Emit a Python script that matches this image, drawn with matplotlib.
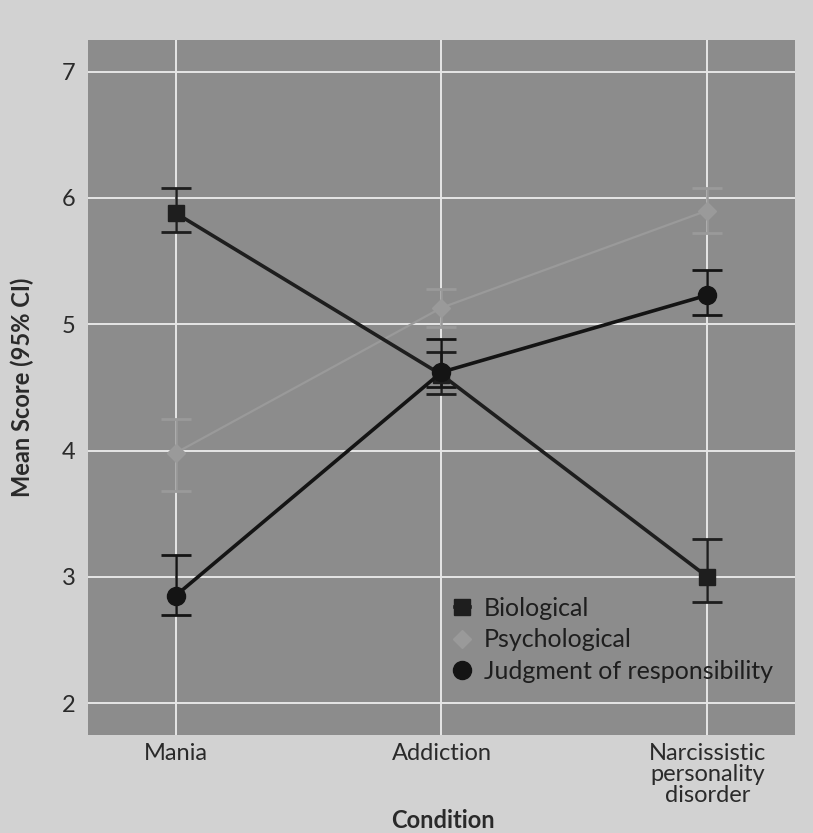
import numpy as np
import matplotlib
matplotlib.use("Agg")
import matplotlib.pyplot as plt

condicoes = ["Mania", "Addiction", "Narcissistic\npersonality\ndisorder"]

biologico = [5.88, 4.60, 3.00]
bio_sup = [6.08, 4.78, 3.30]
bio_inf = [5.73, 4.45, 2.80]

psicologico = [3.98, 5.13, 5.90]
psi_sup = [4.25, 5.28, 6.08]
psi_inf = [3.68, 4.98, 5.72]

julgamento = [2.85, 4.62, 5.23]
jul_sup = [3.17, 4.88, 5.43]
jul_inf = [2.70, 4.50, 5.07]

y_ticks = [2, 3, 4, 5, 6, 7]

plt.rcParams['font.family'] = ['Lato', 'DejaVu Sans']

fig = plt.figure(figsize=(8.13, 8.33), dpi=100, facecolor="#d2d2d2")
ax = fig.add_axes([0.108, 0.118, 0.870, 0.834])
ax.set_facecolor("#8c8c8c")

x = np.arange(len(condicoes))

def desenhar(valores, sup, inf, cor, marcador, tam, lw, rotulo, cor_barra):
    v = np.array(valores)
    erro = [v - np.array(inf), np.array(sup) - v]
    ax.errorbar(x, v, yerr=erro, fmt="none", ecolor=cor_barra, elinewidth=1.8,
                capsize=11, capthick=2.0, zorder=3)
    ax.plot(x, v, color=cor, lw=lw, marker=marcador, markersize=tam,
            markerfacecolor=cor, markeredgecolor=cor, label=rotulo, zorder=4)

desenhar(psicologico, psi_sup, psi_inf, "#9a9a9a", "D", 9, 1.6, "Psychological", "#9a9a9a")
desenhar(biologico, bio_sup, bio_inf, "#1e1e1e", "s", 11, 2.6, "Biological", "#1e1e1e")
desenhar(julgamento, jul_sup, jul_inf, "#141414", "o", 13, 2.6,
         "Judgment of responsibility", "#141414")

ax.set_xlim(-0.33, 2.33)
ax.set_ylim(1.75, 7.25)
ax.set_yticks(y_ticks)
ax.set_xticks(x)
ax.set_xticklabels(condicoes, fontsize=17, color="#2a2a2a", linespacing=1.0)
ax.tick_params(axis="y", labelsize=17, labelcolor="#2a2a2a", length=0, pad=9)
ax.tick_params(axis="x", length=0, pad=6)
ax.grid(True, color="#e6e6e6", lw=1.4)
ax.set_axisbelow(True)
for s in ax.spines.values():
    s.set_visible(False)

ax.set_ylabel("Mean Score (95% CI)", fontsize=17, fontweight="bold", color="#2a2a2a", labelpad=20)
# rotulo do eixo x colocado a mao para nao ser cortado na borda
fig.text(0.545, 0.0145, "Condition", fontsize=17, fontweight="bold", color="#2a2a2a",
         ha="center", va="center")

h, l = ax.get_legend_handles_labels()
ordem = [1, 0, 2]
leg = ax.legend([h[i] for i in ordem], [l[i] for i in ordem], loc="lower right",
                bbox_to_anchor=(1.0, 0.042), frameon=False, fontsize=18,
                handlelength=0.6, handletextpad=0.55, labelspacing=0.35,
                labelcolor="#1e1e1e")

fig.savefig("out.png", dpi=100, facecolor=fig.get_facecolor())
